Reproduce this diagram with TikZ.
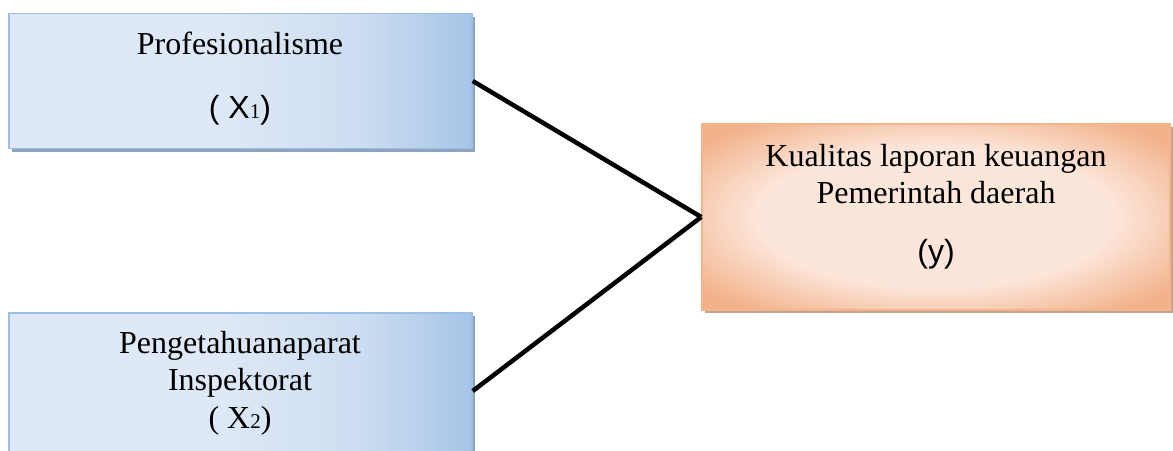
\documentclass[tikz,border=0pt]{standalone}
\usepackage{fontspec}
\setmainfont{Liberation Serif}
\setsansfont{Liberation Sans}
\usetikzlibrary{shadows}

\definecolor{blueLight}{HTML}{DEE8F6}
\definecolor{blueMid}{HTML}{CCDDF1}
\definecolor{blueDark}{HTML}{A6C5E7}
\definecolor{blueEdge}{HTML}{9CC0E4}
\definecolor{blueShadow}{HTML}{8EA3BD}
\definecolor{peachLight}{HTML}{FCE6DA}
\definecolor{peachDark}{HTML}{F2B189}
\definecolor{peachEdge}{HTML}{F4B48C}
\definecolor{peachShadow}{HTML}{C4A290}

% soft left-to-right wash for the input boxes
\pgfdeclarehorizontalshading{bluewash}{100bp}{%
  color(0bp)=(blueLight); color(25bp)=(blueLight); color(48bp)=(blueLight);
  color(63bp)=(blueMid); color(75bp)=(blueDark); color(100bp)=(blueDark)}
% light centre, warmer corners for the outcome box
\pgfdeclareradialshading{peachglow}{\pgfpoint{0bp}{0bp}}{%
  color(0bp)=(peachLight); color(19bp)=(peachLight); color(32bp)=(peachDark);
  color(50bp)=(peachDark)}

\tikzset{
  bluebox/.style={rectangle, draw=blueEdge, line width=1.5pt, shading=bluewash,
    drop shadow={shadow xshift=3pt, shadow yshift=-3pt, fill=blueShadow, opacity=1}},
  peachbox/.style={rectangle, draw=peachEdge, line width=1.5pt, shading=peachglow,
    drop shadow={shadow xshift=3pt, shadow yshift=-3pt, fill=peachShadow, opacity=1}},
  txt/.style={align=center, inner sep=0pt, font=\fontsize{32}{37.5}\selectfont},
  link/.style={line width=4.5pt, black},
}

\begin{document}
\begin{tikzpicture}[x=1pt, y=-1pt]
  \useasboundingbox (0,0) rectangle (1173,450);
  \clip (0,0) rectangle (1173,450);

  % boxes
  \node[bluebox, minimum width=463pt, minimum height=135pt] (prof) at (240.5,81) {};
  \node[bluebox, minimum width=463pt, minimum height=156pt] (peng) at (240.5,391) {};
  \node[peachbox, minimum width=468pt, minimum height=186pt] (kual) at (936,217) {};

  % labels
  \node[txt] (profT) at (240,78.5)
    {Profesionalisme\\[26pt]{\sffamily ( X{\rmfamily\fontsize{21}{21}\selectfont 1})}};
  \node[txt] (pengT) at (240,383)
    {Pengetahuanaparat\\Inspektorat\\( X{\fontsize{21}{21}\selectfont 2})};
  \node[txt] (kualT) at (936,206.5)
    {Kualitas laporan keuangan\\Pemerintah daerah\\[21pt]{\sffamily (y)}};

  % connectors
  \draw[link] (prof.east) -- (kual.west);
  \draw[link] (peng.east) -- (kual.west);
\end{tikzpicture}
\end{document}
